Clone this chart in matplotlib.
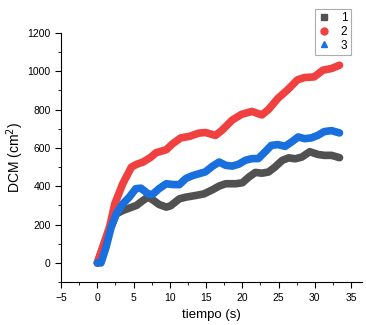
import matplotlib
matplotlib.use("Agg")
import matplotlib.pyplot as plt
from matplotlib.ticker import MultipleLocator
from matplotlib.lines import Line2D

plt.rcParams['font.family'] = ['Liberation Sans', 'DejaVu Sans']

x1 = [0, 0.8, 1.7, 2.6, 3.5, 4.4, 5.4, 6.3, 7.0, 7.6, 8.5, 9.5, 10.1, 11.3, 12.2, 13.6, 14.7,
      15.9, 16.8, 17.7, 19.1, 20.0, 20.9, 21.8, 22.7, 23.6, 24.5, 25.5, 26.4, 27.3, 28.2,
      29.3, 30.4, 31.3, 32.3, 33.4]
y1 = [0, 82, 170, 256, 273, 286, 300, 326, 343, 330, 305, 291, 298, 334, 343, 352, 360,
      382, 401, 413, 413, 418, 448, 472, 468, 474, 500, 535, 548, 543, 552,
      580, 566, 561, 561, 549]

x2 = [0, 0.8, 1.7, 2.4, 3.5, 4.7, 5.4, 6.3, 7.4, 8.1, 9.5, 10.4, 11.5, 12.7, 14.0, 14.9,
      16.3, 17.2, 18.6, 19.9, 21.3, 22.7, 23.6, 24.9, 26.3, 27.6, 28.6, 29.9, 31.1, 32.3, 33.4]
y2 = [0, 90, 190, 308, 413, 500, 514, 526, 552, 575, 590, 622, 652, 660, 677, 680,
      665, 692, 745, 775, 790, 772, 800, 858, 905, 955, 967, 970, 1005, 1014, 1031]

x3 = [0, 0.5, 1.2, 1.9, 2.6, 3.5, 4.4, 5.3, 6.0, 7.0, 7.6, 8.5, 9.5, 10.4, 11.3, 12.2, 13.1,
      14.0, 14.9, 15.9, 16.8, 17.7, 18.6, 19.5, 20.4, 21.3, 22.2, 23.1, 24.0, 24.9, 25.9,
      26.8, 27.7, 28.6, 29.5, 30.4, 31.3, 32.3, 33.4]
y3 = [0, 0, 82, 186, 256, 308, 343, 387, 390, 360, 357, 387, 413, 409, 408, 440, 455,
      465, 475, 505, 526, 509, 505, 515, 535, 544, 544, 578, 613, 617, 608,
      631, 657, 648, 652, 665, 685, 690, 678]

labels = ['1', '2', '3']
colors = ['#515151', '#F14040', '#1A6FDF']
markers = ['s', 'o', '^']

fig = plt.figure(figsize=(3.66, 3.25), dpi=100)
ax = fig.add_axes([0.167, 0.132, 0.822, 0.767])

for xs, ys, c in zip([x1, x2, x3], [y1, y2, y3], colors):
    ax.plot(xs, ys, color=c, lw=5.5, solid_capstyle='round', solid_joinstyle='round')

ax.set_xlim(-5, 36.5)
ax.set_ylim(-100, 1200)
ax.xaxis.set_major_locator(MultipleLocator(5))
ax.xaxis.set_minor_locator(MultipleLocator(2.5))
ax.yaxis.set_major_locator(MultipleLocator(200))
ax.yaxis.set_minor_locator(MultipleLocator(100))
ax.spines['top'].set_visible(False)
ax.spines['right'].set_visible(False)
for s in ['left', 'bottom']:
    ax.spines[s].set_linewidth(0.8)
ax.tick_params(which='major', length=4, width=0.8, labelsize=7.5, direction='out')
ax.tick_params(which='minor', length=2, width=0.6, direction='out')
ax.set_xlabel('tiempo (s)', fontsize=9.5, labelpad=5)
ax.set_ylabel('DCM (cm$^2$)', fontsize=10, labelpad=1)

handles = [Line2D([], [], ls='none', marker=m, color=c, markersize=5) for m, c in zip(markers, colors)]
leg = fig.legend(handles, labels, loc='upper right', bbox_to_anchor=(0.975, 0.992),
                 fontsize=8.5, frameon=True, fancybox=False, handlelength=1.0,
                 handletextpad=0.9, borderpad=0.3, labelspacing=0.15, markerfirst=True)
leg.get_frame().set_edgecolor('#999999')
leg.get_frame().set_linewidth(0.8)

fig.savefig('out.png', dpi=100)
